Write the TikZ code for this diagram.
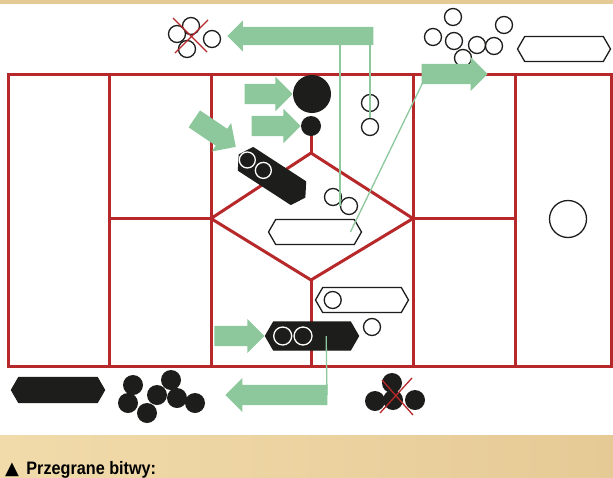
\documentclass[tikz,border=0pt]{standalone}
\usepackage{fontspec}
\newfontfamily\captionfont[FakeStretch=0.9]{Liberation Sans}
\newfontfamily\symbolfont{DejaVu Sans}
\usetikzlibrary{
  calc,
  positioning,
  shapes.arrows,
  shapes.symbols
}
\definecolor{boardred}{RGB}{183,40,43}
\definecolor{movegreen}{RGB}{140,200,155}
\definecolor{piece}{RGB}{29,29,27}
\definecolor{sandlight}{RGB}{241,219,170}
\definecolor{sanddark}{RGB}{230,202,150}

\begin{document}
\begin{tikzpicture}[x=1pt,y=-1pt]
  \tikzset{
    boardline/.style={draw=boardred, line width=3pt},
    stone/.style={circle, draw=piece, fill=white, line width=1.3pt,
      minimum size=17pt, inner sep=0pt},
    blackstone/.style={circle, fill=piece, minimum size=20pt, inner sep=0pt},
    hollowstone/.style={circle, draw=white, line width=1.3pt,
      minimum size=16pt, inner sep=0pt},
    capsule/.style={signal, signal to=east and west, signal pointer angle=120,
      draw=piece, fill=white, line width=1.3pt, inner sep=0pt,
      minimum width=93pt, minimum height=25pt},
    blackcapsule/.style={capsule, fill=piece},
    move/.style={single arrow, fill=movegreen, inner xsep=0pt, inner ysep=10pt,
      anchor=tip, single arrow head extend=7pt},
    link/.style={draw=movegreen, line width=1.3pt},
    strike/.style={draw=boardred, line width=1.3pt},
  }
  \useasboundingbox (0,0) rectangle (613,477);
  % paper
  \fill[white] (0,0) rectangle (613,435);
  \fill[sanddark] (0,0) rectangle (613,4);
  \shade[left color=sandlight, right color=sanddark] (0,435) rectangle (613,477);

  % board
  \draw[boardline] (8,74) rectangle (611,366);
  \foreach \x in {109.5,211,413,515}
  \draw[boardline] (\x,74) -- (\x,366);
  \draw[boardline] (109.5,218.5) -- (211,218.5) (413,218.5) -- (515,218.5);
  \draw[boardline] (211,218.5) -- (311,153) -- (413,218.5) -- (311,280) -- cycle;
  \draw[boardline] (311,153) -- (311,126) (311,280) -- (311,366);

  % pieces on the board
  \node[blackstone, minimum size=38pt] (big) at (312,94) {};
  \node[blackstone] (small) at (311,126) {};
  \node[blackcapsule, minimum width=78pt, minimum height=27pt, rotate=-33]
  (dcap) at (272,176) {};
  \node[hollowstone] at ($(dcap.center)!.74!(dcap.west)$) {};
  \node[hollowstone] at ($(dcap.center)!.26!(dcap.west)$) {};
  \foreach \x/\y [count=\i] in {370/103,370/127,333/197,349/206,372/327}
  \node[stone] (s\i) at (\x,\y) {};
  \node[stone, minimum size=37pt] (lone) at (568,219) {};
  \node[capsule] (cap1) at (315,232) {};
  \node[capsule] (cap2) at (362,300) {};
  \node[stone] at ($(cap2.center)!.62!(cap2.west)$) {};
  \node[blackcapsule, minimum height=28pt] (bcap) at (312,336) {};
  \node[hollowstone, minimum size=18pt] at ($(bcap.center)!.62!(bcap.west)$) {};
  \node[hollowstone, minimum size=18pt] at ($(bcap.center)!.19!(bcap.west)$) {};

  % pieces off the board
  \foreach \x/\y [count=\i] in {191/26,177/34,212/39,187/49}
  \node[stone] (lost-\i) at (\x,\y) {};
  \foreach \x/\y [count=\i] in {453/17,504/25,433/37,463/58,454/41,477/45,494/46}
  \node[stone] (out-\i) at (\x,\y) {};
  \node[capsule] (cap3) at (564,49) {};
  \node[blackcapsule] (spare) at (58,390) {};
  \foreach \x/\y [count=\i] in {133/385,128/403,147/413,157/395,171/380,177/398,195/403}
  \node[blackstone] (taken-\i) at (\x,\y) {};
  \foreach \x/\y [count=\i] in {392/383,375/401,393/400,415/400}
  \node[blackstone] (struck-\i) at (\x,\y) {};
  \draw[strike] (190,36) +(-17,-18) -- +(17,16) +(18,-16) -- +(-15,17);
  \draw[strike] (397,397) +(-15,-17) -- +(16,18) +(15,-19) -- +(-17,16);

  % thin links
  \draw[link] (227,36) ++(113,0) coordinate (r1) (r1 -| s4.west) -- (s4.west);
  \draw[link] (r1 -| s2) -- (s2);
  \draw[link] (424,80) -- ($(cap1.center)!.75!(cap1.east)$);
  \draw[link] ($(bcap.center)!.3!(bcap.east)$) -- (327,395);

  % moves
  \node[move, rotate=180, minimum height=146pt, inner ysep=9pt,
  single arrow head extend=6.5pt] (retreat) at (227,36) {};
  \node[move, minimum height=48pt] (a1) at (big.west) {};
  \node[move, minimum height=49pt] (a2) at (small.west) {};
  \node[move, rotate=-34, minimum height=50pt] (a3) at (236,147) {};
  \node[move, minimum height=66pt] (advance) at (488,74) {};
  \node[move, minimum height=50pt] (a5) at (bcap.west) {};
  \node[move, rotate=180, minimum height=102pt] (retreat2) at (225,395) {};

  % caption
  \node[anchor=base west, inner sep=0pt,
  font=\symbolfont\fontsize{18}{18}\selectfont] (tri) at (5,474) {▲};
  \node[right=7pt of tri.base east, anchor=base west, inner sep=0pt,
  font=\captionfont\bfseries\fontsize{18}{18}\selectfont] (caption)
  {Przegrane bitwy:};
\end{tikzpicture}
\end{document}
